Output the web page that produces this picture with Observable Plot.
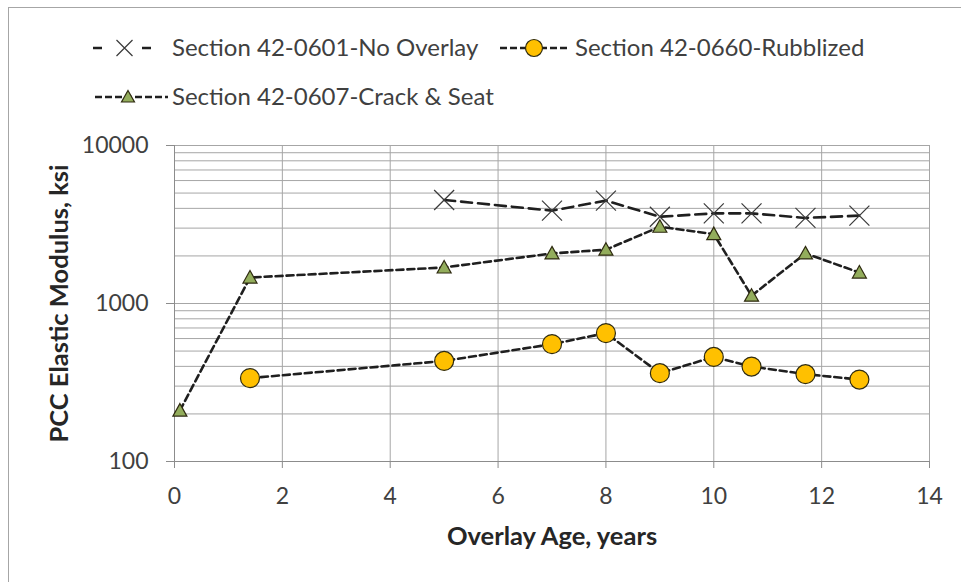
<!DOCTYPE html>
<html>
<head>
<meta charset="utf-8">
<script src="https://cdn.jsdelivr.net/npm/d3@7"></script>
<script src="https://cdn.jsdelivr.net/npm/@observablehq/plot@0.6"></script>
<style>
  html, body { margin: 0; padding: 0; background: #fff; }
  #wrap { position: relative; width: 961px; height: 582px; background: #fff; overflow: hidden; font-family: Lato, "Open Sans", sans-serif; }
  #border { position: absolute; left: 8px; top: 7px; width: 970px; height: 600px; border-left: 1px solid #a6a6a6; border-top: 1px solid #a6a6a6; }
  #legend { position: absolute; left: 0; top: 0; }
  #plot { position: absolute; left: 0; top: 130px; }
</style>
</head>
<body>
<div id="wrap">
  <div id="border"></div>
  <div id="legend"></div>
  <div id="plot"></div>
</div>
<script>
// ---- data ----
const seriesNames = ["Section 42-0601-No Overlay", "Section 42-0660-Rubblized", "Section 42-0607-Crack & Seat"];

const ageNoOverlay = [5, 7, 8, 9, 10, 10.7, 11.7, 12.7];
const modNoOverlay = [4520, 3870, 4480, 3540, 3720, 3720, 3480, 3600];

const ageRubblized = [1.4, 5, 7, 8, 9, 10, 10.7, 11.7, 12.7];
const modRubblized = [337, 433, 553, 649, 362, 459, 399, 357, 330];

const ageCrackSeat = [0.1, 1.4, 5, 7, 8, 9, 10, 10.7, 11.7, 12.7];
const modCrackSeat = [210, 1460, 1690, 2075, 2190, 3060, 2750, 1120, 2075, 1570];

const xTicks = [0, 2, 4, 6, 8, 10, 12, 14];
const yTicks = [100, 1000, 10000];
const yMinorGrid = [200, 300, 400, 500, 600, 700, 800, 900, 2000, 3000, 4000, 5000, 6000, 7000, 8000, 9000];

const xTitle = "Overlay Age, years";
const yTitle = "PCC Elastic Modulus, ksi";

// ---- build rows ----
const rows = (ages, mods) => ages.map((a, i) => ({age: a, mod: mods[i]}));
const noOverlay = rows(ageNoOverlay, modNoOverlay);
const rubblized = rows(ageRubblized, modRubblized);
const crackSeat = rows(ageCrackSeat, modCrackSeat);

// ---- marker symbols ----
const symX = {draw(ctx) { const r = 10; ctx.moveTo(-r, -r); ctx.lineTo(r, r); ctx.moveTo(-r, r); ctx.lineTo(r, -r); }};
const symTri = {draw(ctx) { ctx.moveTo(0, -7); ctx.lineTo(7, 5.5); ctx.lineTo(-7, 5.5); ctx.closePath(); }};

const lineColor = "#1f1f1f";
const gridColor = "#a6a6a6";
const axisColor = "#8c8c8c";
const circleFill = "#FFC000";
const triFill = "#93AD5C";
const markerStroke = "#2e2a10";

const chart = Plot.plot({
  width: 961,
  height: 452,
  marginTop: 15,
  marginRight: 32,
  marginBottom: 121,
  marginLeft: 174,
  style: {fontFamily: "Lato, 'Open Sans', sans-serif", fontSize: "23px", color: "#404040", background: "transparent", overflow: "visible"},
  x: {domain: [0, 14], label: null},
  y: {type: "log", domain: [100, 10000], label: null},
  marks: [
    Plot.gridY(yMinorGrid, {stroke: gridColor, strokeOpacity: 1}),
    Plot.gridY([1000, 10000], {stroke: gridColor, strokeOpacity: 1}),
    Plot.gridX(xTicks.filter(d => d > 0), {stroke: gridColor, strokeOpacity: 1}),
    Plot.ruleX([0], {stroke: axisColor}),
    Plot.ruleY([100], {stroke: axisColor}),
    Plot.axisY(yTicks, {tickSize: 8, tickPadding: 18, tickFormat: d3.format("d"), stroke: axisColor, label: null}),
    Plot.axisX(xTicks, {tickSize: 7, tickPadding: 19, tickFormat: d3.format("d"), stroke: axisColor, label: null}),
    Plot.text([xTitle], {frameAnchor: "bottom", dy: 75, lineAnchor: "middle", textAnchor: "middle", fontWeight: "bold", fontSize: 25.5, fill: "#262626"}),
    Plot.text([yTitle], {frameAnchor: "left", dx: -115, rotate: -90, lineAnchor: "middle", textAnchor: "middle", fontWeight: "bold", fontSize: 25.5, fill: "#262626"}),
    // No Overlay
    Plot.line(noOverlay, {x: "age", y: "mod", stroke: lineColor, strokeWidth: 2.6, strokeDasharray: "11,6"}),
    Plot.dot(noOverlay, {x: "age", y: "mod", symbol: symX, r: 1, fill: "none", stroke: "#3a3a3a", strokeWidth: 1.2}),
    // Rubblized
    Plot.line(rubblized, {x: "age", y: "mod", stroke: lineColor, strokeWidth: 2.6, strokeDasharray: "7,4"}),
    Plot.dot(rubblized, {x: "age", y: "mod", r: 9.5, fill: circleFill, stroke: markerStroke, strokeWidth: 1.2}),
    // Crack & Seat
    Plot.line(crackSeat, {x: "age", y: "mod", stroke: lineColor, strokeWidth: 2.6, strokeDasharray: "7,4"}),
    Plot.dot(crackSeat, {x: "age", y: "mod", symbol: symTri, r: 1, fill: triFill, stroke: markerStroke, strokeWidth: 1.2})
  ]
});
document.getElementById("plot").appendChild(chart);

// ---- legend (above the plot) ----
const ns = "http://www.w3.org/2000/svg";
const leg = document.createElementNS(ns, "svg");
leg.setAttribute("width", 961);
leg.setAttribute("height", 130);
const items = [
  {name: seriesNames[0], x1: 93, x2: 152, mx: 124.5, y: 48, tx: 172, dash: "9,40", kind: "x"},
  {name: seriesNames[1], x1: 500, x2: 570, mx: 534, y: 48, tx: 575, dash: "7,3", kind: "circle"},
  {name: seriesNames[2], x1: 95, x2: 168, mx: 128, y: 97, tx: 172, dash: "7,3", kind: "tri"}
];
for (const it of items) {
  const l = document.createElementNS(ns, "line");
  l.setAttribute("x1", it.x1); l.setAttribute("x2", it.x2);
  l.setAttribute("y1", it.y); l.setAttribute("y2", it.y);
  l.setAttribute("stroke", lineColor); l.setAttribute("stroke-width", 2.6);
  l.setAttribute("stroke-dasharray", it.dash);
  leg.appendChild(l);
  let m;
  if (it.kind === "x") {
    m = document.createElementNS(ns, "path");
    const r = 8;
    m.setAttribute("d", `M${it.mx - r},${it.y - r}L${it.mx + r},${it.y + r}M${it.mx - r},${it.y + r}L${it.mx + r},${it.y - r}`);
    m.setAttribute("stroke", "#3a3a3a"); m.setAttribute("fill", "none"); m.setAttribute("stroke-width", 1.2);
  } else if (it.kind === "circle") {
    m = document.createElementNS(ns, "circle");
    m.setAttribute("cx", it.mx); m.setAttribute("cy", it.y); m.setAttribute("r", 8.5);
    m.setAttribute("fill", circleFill); m.setAttribute("stroke", markerStroke); m.setAttribute("stroke-width", 1.2);
  } else {
    m = document.createElementNS(ns, "path");
    m.setAttribute("d", `M${it.mx},${it.y - 6.5}L${it.mx + 6.5},${it.y + 5}L${it.mx - 6.5},${it.y + 5}Z`);
    m.setAttribute("fill", triFill); m.setAttribute("stroke", markerStroke); m.setAttribute("stroke-width", 1.2);
  }
  leg.appendChild(m);
  const t = document.createElementNS(ns, "text");
  t.setAttribute("x", it.tx); t.setAttribute("y", it.y); t.setAttribute("dy", "0.35em");
  t.setAttribute("font-family", "Lato, 'Open Sans', sans-serif");
  t.setAttribute("font-size", 24);
  t.setAttribute("fill", "#404040");
  t.textContent = it.name;
  leg.appendChild(t);
}
document.getElementById("legend").appendChild(leg);
</script>
</body>
</html>
